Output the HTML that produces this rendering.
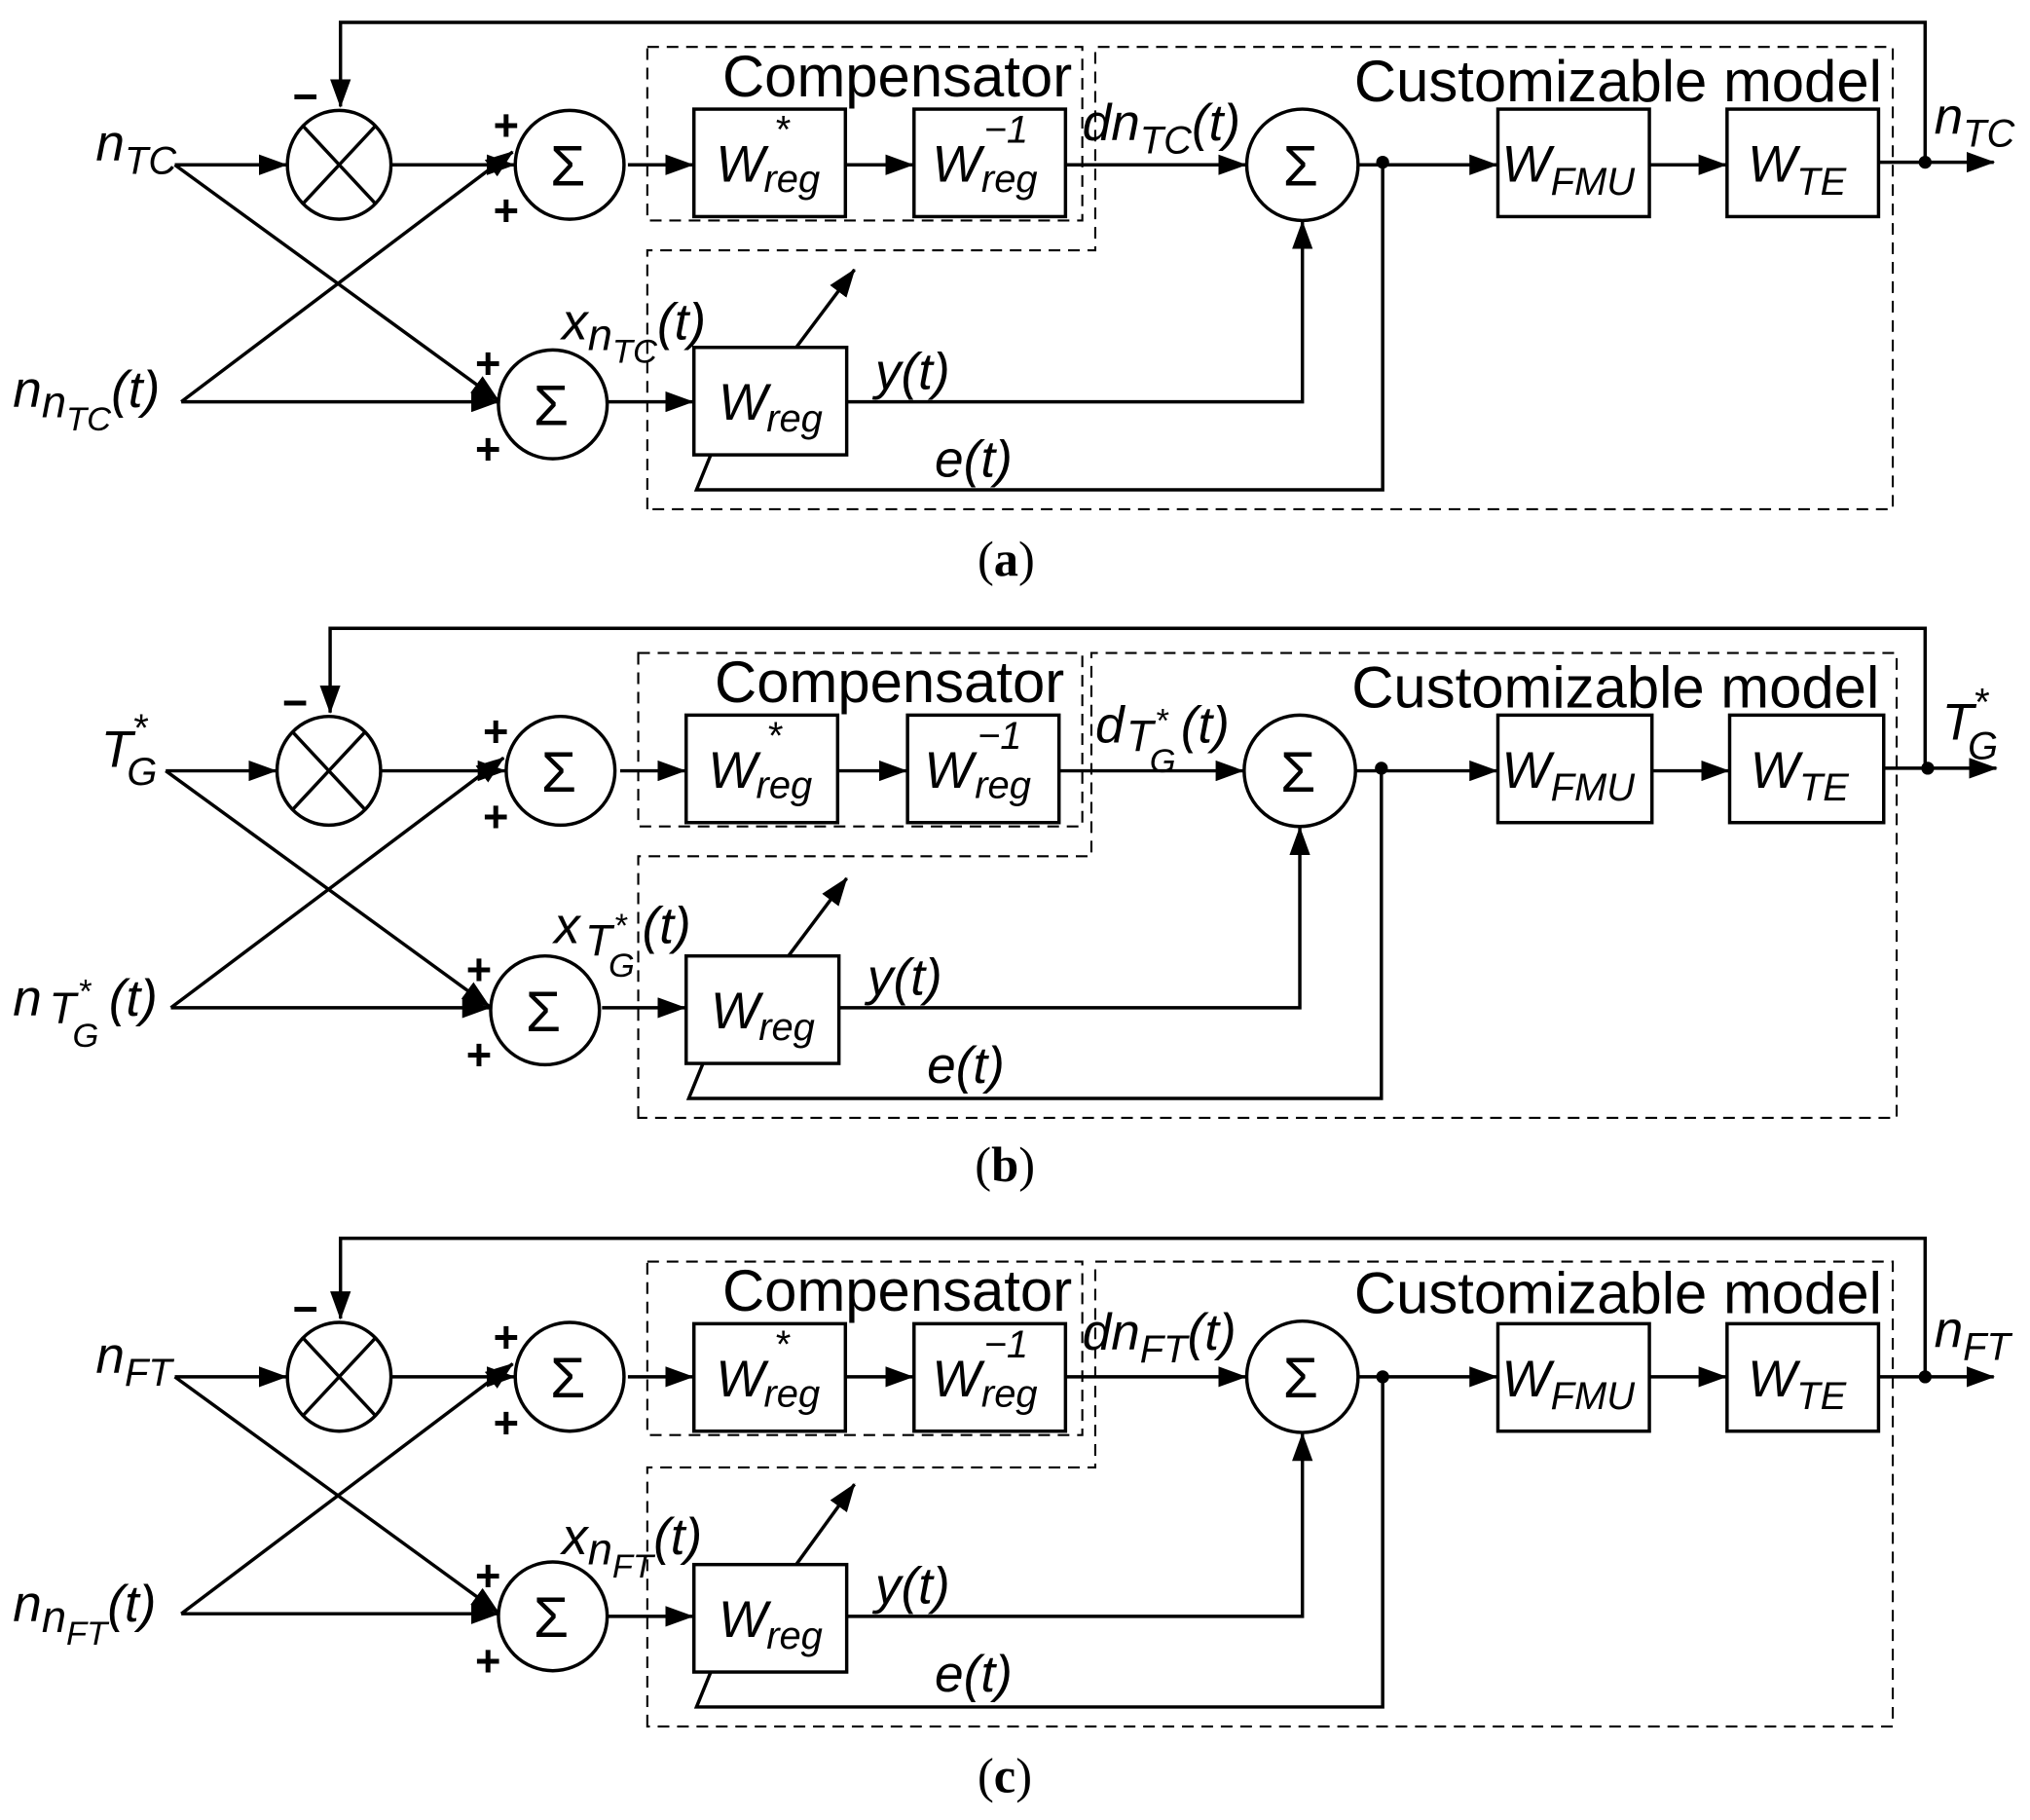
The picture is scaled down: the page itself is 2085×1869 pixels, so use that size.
<!DOCTYPE html>
<html><head><meta charset="utf-8"><style>
html,body{margin:0;padding:0;background:#fff}
svg{display:block}
text{font-family:"Liberation Sans","DejaVu Sans",sans-serif;fill:#000}
.m{font-style:italic;font-size:40px}
.s{font-style:italic;font-size:30px}
.r{font-size:45px;letter-spacing:0px}
.sg{font-size:44px}
.p{font-size:34px;font-weight:bold}
.cap{font-family:"Liberation Serif",serif;font-size:38px}
.l{stroke:#000;stroke-width:2.6;fill:none}
.d{stroke:#000;stroke-width:1.6;fill:none;stroke-dasharray:9 6}
</style></head><body>
<svg width="2085" height="1869" viewBox="0 0 1568 1405" xmlns="http://www.w3.org/2000/svg">
<defs><marker id="a" markerUnits="userSpaceOnUse" markerWidth="22" markerHeight="16" refX="21" refY="8" orient="auto"><path d="M0,0 L22,8 L0,16 Z" fill="#000"/></marker></defs>

<!-- PANEL A -->
<g>
<path class="l" d="M1487,125 V17 H263 V82" marker-end="url(#a)"/>
<text class="p" x="226" y="86">−</text>
<ellipse class="l" cx="262" cy="127" rx="40" ry="42"/>
<path class="l" d="M234,97 L290,157 M290,97 L234,157"/>
<path class="l" d="M135,127 H221" marker-end="url(#a)"/>
<path class="l" d="M302,127 H397" marker-end="url(#a)"/>
<ellipse class="l" cx="440" cy="127" rx="42" ry="42"/><text class="sg" x="425" y="143">Σ</text>
<text class="p" x="381" y="108">+</text><text class="p" x="381" y="174">+</text>
<path class="l" d="M135,127 L385,309" marker-end="url(#a)"/>
<path class="l" d="M140,310 L396,117" marker-end="url(#a)"/>
<path class="l" d="M140,310 H385" marker-end="url(#a)"/>
<ellipse class="l" cx="427" cy="312" rx="42" ry="42"/><text class="sg" x="412" y="328">Σ</text>
<text class="p" x="367" y="292">+</text><text class="p" x="367" y="358">+</text>
<rect class="d" x="500" y="36" width="336" height="134"/>
<path class="d" d="M500,393 V193 H846 V36 H1462 V393 Z"/>
<text class="r" x="558" y="74">Compensator</text>
<text class="r" x="1046" y="78">Customizable model</text>
<path class="l" d="M485,127 H535" marker-end="url(#a)"/>
<rect class="l" x="536" y="84" width="117" height="83"/>
<path class="l" d="M653,127 H705" marker-end="url(#a)"/>
<rect class="l" x="706" y="84" width="117" height="83"/>
<path class="l" d="M823,127 H962" marker-end="url(#a)"/>
<ellipse class="l" cx="1006" cy="127" rx="43" ry="43"/><text class="sg" x="991" y="143">Σ</text>
<circle cx="1068" cy="125" r="5"/>
<path class="l" d="M1049,127 H1156" marker-end="url(#a)"/>
<rect class="l" x="1157" y="84" width="117" height="83"/>
<path class="l" d="M1274,127 H1333" marker-end="url(#a)"/>
<rect class="l" x="1334" y="84" width="117" height="83"/>
<path class="l" d="M1451,125 H1540" marker-end="url(#a)"/>
<circle cx="1487" cy="125" r="5"/>
<path class="l" d="M470,310 H535" marker-end="url(#a)"/>
<rect class="l" x="536" y="268" width="118" height="83"/>
<path class="l" d="M654,310 H1006 V171" marker-end="url(#a)"/>
<path class="l" d="M549,351 L538,378 H1068 V125"/>
<path class="l" d="M615,268 L660,208" marker-end="url(#a)"/>
<text class="m" x="74" y="124">n<tspan class="s" dy="10">TC</tspan></text>
<text class="m" x="10" y="314">n<tspan style="font-size:34px" dy="8">n</tspan><tspan class="s" style="font-size:26px" dy="10">TC</tspan><tspan dy="-18">(t)</tspan></text>
<text class="m" x="553" y="140">W</text><text class="s" x="598" y="110">*</text><text class="s" x="590" y="148">reg</text>
<text class="m" x="720" y="140">W</text><text class="s" x="760" y="110">−1</text><text class="s" x="758" y="148">reg</text>
<text class="m" x="555" y="324">W</text><text class="s" x="592" y="333">reg</text>
<text class="m" x="836" y="108">dn<tspan class="s" dy="10">TC</tspan><tspan dy="-10">(t)</tspan></text>
<text class="m" x="1160" y="140">W<tspan class="s" dy="10">FMU</tspan></text>
<text class="m" x="1350" y="140">W<tspan class="s" dy="10">TE</tspan></text>
<text class="m" x="1494" y="103">n<tspan class="s" dy="10">TC</tspan></text>
<text class="m" x="434" y="262">x<tspan style="font-size:34px" dy="8">n</tspan><tspan class="s" style="font-size:26px" dy="10">TC</tspan><tspan dy="-18">(t)</tspan></text>
<text class="m" x="676" y="300">y(t)</text>
<text class="m" x="722" y="368">e(t)</text>
<text class="cap" x="755" y="444">(<tspan font-weight="bold">a</tspan>)</text>
</g>

<!-- PANEL B -->
<g transform="translate(0,468)">
<path class="l" d="M1487,125 V17 H255 V82" marker-end="url(#a)"/>
<text class="p" x="218" y="86">−</text>
<ellipse class="l" cx="254" cy="127" rx="40" ry="42"/>
<path class="l" d="M226,97 L282,157 M282,97 L226,157"/>
<path class="l" d="M128,127 H213" marker-end="url(#a)"/>
<path class="l" d="M294,127 H390" marker-end="url(#a)"/>
<ellipse class="l" cx="433" cy="127" rx="42" ry="42"/><text class="sg" x="418" y="143">Σ</text>
<text class="p" x="373" y="108">+</text><text class="p" x="373" y="174">+</text>
<path class="l" d="M128,127 L378,309" marker-end="url(#a)"/>
<path class="l" d="M132,310 L389,117" marker-end="url(#a)"/>
<path class="l" d="M132,310 H378" marker-end="url(#a)"/>
<ellipse class="l" cx="421" cy="312" rx="42" ry="42"/><text class="sg" x="406" y="328">Σ</text>
<text class="p" x="360" y="292">+</text><text class="p" x="360" y="358">+</text>
<rect class="d" x="493" y="36" width="343" height="134"/>
<path class="d" d="M493,395 V193 H843 V36 H1465 V395 Z"/>
<text class="r" x="552" y="74">Compensator</text>
<text class="r" x="1044" y="78">Customizable model</text>
<path class="l" d="M479,127 H529" marker-end="url(#a)"/>
<rect class="l" x="530" y="84" width="117" height="83"/>
<path class="l" d="M647,127 H700" marker-end="url(#a)"/>
<rect class="l" x="701" y="84" width="117" height="83"/>
<path class="l" d="M818,127 H960" marker-end="url(#a)"/>
<ellipse class="l" cx="1004" cy="127" rx="43" ry="43"/><text class="sg" x="989" y="143">Σ</text>
<circle cx="1067" cy="125" r="5"/>
<path class="l" d="M1047,127 H1156" marker-end="url(#a)"/>
<rect class="l" x="1157" y="84" width="119" height="83"/>
<path class="l" d="M1276,127 H1335" marker-end="url(#a)"/>
<rect class="l" x="1336" y="84" width="119" height="83"/>
<path class="l" d="M1455,125 H1542" marker-end="url(#a)"/>
<circle cx="1489" cy="125" r="5"/>
<path class="l" d="M465,310 H529" marker-end="url(#a)"/>
<rect class="l" x="530" y="270" width="118" height="83"/>
<path class="l" d="M648,310 H1004 V171" marker-end="url(#a)"/>
<path class="l" d="M543,353 L532,380 H1067 V125"/>
<path class="l" d="M609,270 L654,210" marker-end="url(#a)"/>
<text class="m" x="78" y="124">T</text><text class="s" x="102" y="104">*</text><text class="s" x="98" y="138">G</text>
<text class="m" x="10" y="316">n</text><text class="m" x="38" y="322" style="font-size:34px">T</text><text class="s" x="60" y="306" style="font-size:26px">*</text><text class="s" x="56" y="340" style="font-size:26px">G</text><text class="m" x="84" y="316">(t)</text>
<text class="m" x="547" y="140">W</text><text class="s" x="592" y="110">*</text><text class="s" x="584" y="148">reg</text>
<text class="m" x="714" y="140">W</text><text class="s" x="755" y="110">−1</text><text class="s" x="753" y="148">reg</text>
<text class="m" x="549" y="326">W</text><text class="s" x="586" y="335">reg</text>
<text class="m" x="846" y="105">d</text><text class="m" x="870" y="112" style="font-size:34px">T</text><text class="s" x="892" y="97" style="font-size:26px">*</text><text class="s" x="888" y="128" style="font-size:26px">G</text><text class="m" x="912" y="105">(t)</text>
<text class="m" x="1160" y="140">W<tspan class="s" dy="10">FMU</tspan></text>
<text class="m" x="1352" y="140">W<tspan class="s" dy="10">TE</tspan></text>
<text class="m" x="1500" y="103">T</text><text class="s" x="1524" y="84">*</text><text class="s" x="1520" y="118">G</text>
<text class="m" x="428" y="260">x</text><text class="m" x="452" y="270" style="font-size:34px">T</text><text class="s" x="474" y="255" style="font-size:26px">*</text><text class="s" x="470" y="286" style="font-size:26px">G</text><text class="m" x="496" y="260">(t)</text>
<text class="m" x="670" y="300">y(t)</text>
<text class="m" x="716" y="368">e(t)</text>
<text class="cap" x="753" y="444">(<tspan font-weight="bold">b</tspan>)</text>
</g>

<!-- PANEL C -->
<g transform="translate(0,936)">
<path class="l" d="M1487,127 V20 H263 V82" marker-end="url(#a)"/>
<text class="p" x="226" y="86">−</text>
<ellipse class="l" cx="262" cy="127" rx="40" ry="42"/>
<path class="l" d="M234,97 L290,157 M290,97 L234,157"/>
<path class="l" d="M135,127 H221" marker-end="url(#a)"/>
<path class="l" d="M302,127 H397" marker-end="url(#a)"/>
<ellipse class="l" cx="440" cy="127" rx="42" ry="42"/><text class="sg" x="425" y="143">Σ</text>
<text class="p" x="381" y="108">+</text><text class="p" x="381" y="174">+</text>
<path class="l" d="M135,127 L385,309" marker-end="url(#a)"/>
<path class="l" d="M140,310 L396,117" marker-end="url(#a)"/>
<path class="l" d="M140,310 H385" marker-end="url(#a)"/>
<ellipse class="l" cx="427" cy="312" rx="42" ry="42"/><text class="sg" x="412" y="328">Σ</text>
<text class="p" x="367" y="292">+</text><text class="p" x="367" y="358">+</text>
<rect class="d" x="500" y="38" width="336" height="134"/>
<path class="d" d="M500,397 V197 H846 V38 H1462 V397 Z"/>
<text class="r" x="558" y="76">Compensator</text>
<text class="r" x="1046" y="78">Customizable model</text>
<path class="l" d="M485,127 H535" marker-end="url(#a)"/>
<rect class="l" x="536" y="86" width="117" height="83"/>
<path class="l" d="M653,127 H705" marker-end="url(#a)"/>
<rect class="l" x="706" y="86" width="117" height="83"/>
<path class="l" d="M823,127 H962" marker-end="url(#a)"/>
<ellipse class="l" cx="1006" cy="127" rx="43" ry="43"/><text class="sg" x="991" y="143">Σ</text>
<circle cx="1068" cy="127" r="5"/>
<path class="l" d="M1049,127 H1156" marker-end="url(#a)"/>
<rect class="l" x="1157" y="86" width="117" height="83"/>
<path class="l" d="M1274,127 H1333" marker-end="url(#a)"/>
<rect class="l" x="1334" y="86" width="117" height="83"/>
<path class="l" d="M1451,127 H1540" marker-end="url(#a)"/>
<circle cx="1487" cy="127" r="5"/>
<path class="l" d="M470,312 H535" marker-end="url(#a)"/>
<rect class="l" x="536" y="272" width="118" height="83"/>
<path class="l" d="M654,312 H1006 V171" marker-end="url(#a)"/>
<path class="l" d="M549,355 L538,382 H1068 V127"/>
<path class="l" d="M615,272 L660,210" marker-end="url(#a)"/>
<text class="m" x="74" y="124">n<tspan class="s" dy="10">FT</tspan></text>
<text class="m" x="10" y="316">n<tspan style="font-size:34px" dy="8">n</tspan><tspan class="s" style="font-size:26px" dy="10">FT</tspan><tspan dy="-18">(t)</tspan></text>
<text class="m" x="553" y="142">W</text><text class="s" x="598" y="112">*</text><text class="s" x="590" y="150">reg</text>
<text class="m" x="720" y="142">W</text><text class="s" x="760" y="112">−1</text><text class="s" x="758" y="150">reg</text>
<text class="m" x="555" y="328">W</text><text class="s" x="592" y="337">reg</text>
<text class="m" x="836" y="106">dn<tspan class="s" dy="10">FT</tspan><tspan dy="-10">(t)</tspan></text>
<text class="m" x="1160" y="142">W<tspan class="s" dy="10">FMU</tspan></text>
<text class="m" x="1350" y="142">W<tspan class="s" dy="10">TE</tspan></text>
<text class="m" x="1494" y="104">n<tspan class="s" dy="10">FT</tspan></text>
<text class="m" x="434" y="264">x<tspan style="font-size:34px" dy="8">n</tspan><tspan class="s" style="font-size:26px" dy="10">FT</tspan><tspan dy="-18">(t)</tspan></text>
<text class="m" x="676" y="302">y(t)</text>
<text class="m" x="722" y="370">e(t)</text>
<text class="cap" x="755" y="448">(<tspan font-weight="bold">c</tspan>)</text>
</g>
</svg>
</body></html>
